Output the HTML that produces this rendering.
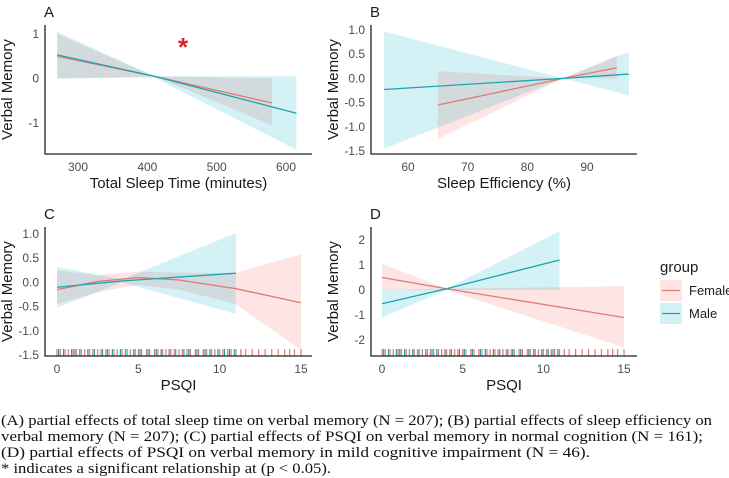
<!DOCTYPE html>
<html><head><meta charset="utf-8"><style>
html,body{margin:0;padding:0;background:#fff;}
svg{display:block;font-family:"Liberation Sans",sans-serif;}
.tk{font-size:12px;fill:#4d4d4d;}
.ttl{font-size:15px;fill:#1a1a1a;}
.cap{font-family:"Liberation Serif",serif;font-size:15px;fill:#111;}
</style></head><body>
<svg id="chart" width="729" height="478" viewBox="0 0 729 478" xmlns="http://www.w3.org/2000/svg"></svg>
<script>
// ---- Data ----
// Panel A: total sleep time
const aFemX=[270,410,580], aFemLine=[0.5,0.05,-0.55], aFemLo=[0,0.05,-1.05], aFemHi=[1.0,0.05,0.0];
const aMaleX=[270,410,615], aMaleLine=[0.53,0.05,-0.78], aMaleLo=[0,0.02,-1.6], aMaleHi=[1.05,0.05,0.05];
const aXTicks=[300,400,500,600], aYTicks=[1,0,-1], aYLabels=["1","0","-1"];
// Panel B: sleep efficiency
const bFemX=[65,86,95], bFemLine=[-0.55,0.0,0.22], bFemLo=[-1.25,0,0], bFemHi=[0.15,0,0.47];
const bMaleX=[56,86,97], bMaleLine=[-0.23,0.0,0.09], bMaleLo=[-1.45,0,-0.35], bMaleHi=[0.97,0,0.55];
const bXTicks=[60,70,80,90], bYTicks=[1,0.5,0,-0.5,-1,-1.5], bYLabels=["1.0","0.5","0.0","-0.5","-1.0","-1.5"];
// Panel C: PSQI normal cognition
const cFemX=[0,2.5,5,7.5,11,15], cFemLine=[-0.15,0.02,0.1,0.05,-0.13,-0.42], cFemLo=[-0.45,-0.2,-0.05,-0.15,-0.45,-1.4], cFemHi=[0.25,0.15,0.22,0.2,0.2,0.58];
const cMaleX=[0,4,11], cMaleLine=[-0.1,0.03,0.19], cMaleLo=[-0.52,0.0,-0.65], cMaleHi=[0.32,0.06,1.02];
const cXTicks=[0,5,10,15], cYTicks=[1,0.5,0,-0.5,-1,-1.5], cYLabels=["1.0","0.5","0.0","-0.5","-1.0","-1.5"];
// Panel D: PSQI MCI
const dFemX=[0,4,15], dFemLine=[0.5,0.05,-1.1], dFemLo=[0,0,-2.3], dFemHi=[1.05,0.05,0.15];
const dMaleX=[0,4,11], dMaleLine=[-0.55,0.05,1.2], dMaleLo=[-1.1,0,0], dMaleHi=[0,0.05,2.35];
const dXTicks=[0,5,10,15], dYTicks=[2,1,0,-1,-2], dYLabels=["2","1","0","-1","-2"];
// Rug values (PSQI)
const rugFem=[0,0.2,0.5,0.7,1,1.2,1.5,1.7,2,2.2,2.5,2.7,3,3.2,3.5,3.7,4,4.2,4.5,4.7,5,5.2,5.5,5.7,6,6.2,6.5,6.7,7,7.2,7.5,7.7,8,8.2,8.5,8.7,9,9.2,9.5,9.7,10,10.2,10.5,10.7,11,11.3,11.6,12,12.4,12.8,13.2,13.6,14,14.3,14.6,15];
const rugMale=[0.1,0.4,0.9,1.1,1.4,1.9,2.3,2.8,3.1,3.4,3.9,4.3,4.8,5.1,5.6,6.1,6.4,6.9,7.3,7.8,8.1,8.6,9.1,9.4,9.9,10.3,10.6,10.9];

const RED="#e07b73", REDF="rgba(248,118,109,0.2)", BLUE="#1aa5b0", BLUEF="rgba(0,170,200,0.17)";
const svg=document.getElementById('chart');
const NS="http://www.w3.org/2000/svg";
function mk(tag,attrs,parent){const e=document.createElementNS(NS,tag);for(const k in attrs)e.setAttribute(k,attrs[k]);(parent||svg).appendChild(e);return e;}
function lin(d0,d1,r0,r1){return v=>r0+(v-d0)*(r1-r0)/(d1-d0);}

function panel(p){
  const g=mk('g',{});
  
  
  const X=p.x, Y=p.y;
  function ribbon(xs,lo,hi,fill,name){
    let pts=xs.map((v,i)=>X(v)+','+Y(hi[i]));
    for(let i=xs.length-1;i>=0;i--)pts.push(X(xs[i])+','+Y(lo[i]));
    const e=mk('polygon',{points:pts.join(' '),fill:fill},g);
    
    
  }
  function line(xs,ys,col,name){
    const e=mk('polyline',{points:xs.map((v,i)=>X(v)+','+Y(ys[i])).join(' '),fill:'none',stroke:col,'stroke-width':1.3},g);
    
    
  }
  ribbon(p.fx,p.flo,p.fhi,REDF,'female-ci-ribbon');
  ribbon(p.mx,p.mlo,p.mhi,BLUEF,'male-ci-ribbon');
  line(p.fx,p.fl,RED,'female-fit-line');
  line(p.mx,p.ml,BLUE,'male-fit-line');
  if(p.rug){
    p.rug[0].forEach(v=>{const t=mk('line',{x1:X(v),x2:X(v),y1:p.bottom-7,y2:p.bottom,stroke:RED,'stroke-width':1.2},g);
      
      });
    p.rug[1].forEach(v=>{const t=mk('line',{x1:X(v),x2:X(v),y1:p.bottom-7,y2:p.bottom,stroke:BLUE,'stroke-width':1.2},g);
      
      });
  }
  const ax=mk('path',{d:`M${p.left},${p.top} V${p.bottom} H${p.right}`,fill:'none',stroke:'#222','stroke-width':1.3},g);
  
  
  p.xt.forEach(v=>{const t=mk('text',{x:X(v),y:p.bottom+17,'text-anchor':'middle',class:'tk'},g);t.textContent=v;
    
    });
  p.yt.forEach((v,i)=>{const t=mk('text',{x:p.left-6,y:Y(v)+4,'text-anchor':'end',class:'tk'},g);t.textContent=p.yl[i];
    
    });
  const xt=mk('text',{x:(p.left+p.right)/2,y:p.bottom+34,'text-anchor':'middle',class:'ttl'},g);xt.textContent=p.xtitle;
  
  
  const cy=(p.top+p.bottom)/2, cx=p.left-33;
  const yt=mk('text',{x:cx,y:cy,'text-anchor':'middle',class:'ttl',transform:`rotate(-90 ${cx} ${cy})`},g);yt.textContent='Verbal Memory';
  
  
  const pt=mk('text',{x:p.left-1,y:p.top-8,class:'ttl','font-size':'16'},g);pt.textContent=p.id;
  
  
}

panel({id:'A',left:45,right:312,top:25,bottom:154,x:lin(300,600,78,286),y:lin(1,-1,34,123),
  fx:aFemX,fl:aFemLine,flo:aFemLo,fhi:aFemHi,mx:aMaleX,ml:aMaleLine,mlo:aMaleLo,mhi:aMaleHi,
  xt:aXTicks,yt:aYTicks,yl:aYLabels,xtitle:'Total Sleep Time (minutes)'});
panel({id:'B',left:371,right:637,top:25,bottom:154,x:lin(60,90,408,587),y:lin(1,-1.5,30,151),
  fx:bFemX,fl:bFemLine,flo:bFemLo,fhi:bFemHi,mx:bMaleX,ml:bMaleLine,mlo:bMaleLo,mhi:bMaleHi,
  xt:bXTicks,yt:bYTicks,yl:bYLabels,xtitle:'Sleep Efficiency (%)'});
panel({id:'C',left:45,right:312,top:227,bottom:356,x:lin(0,15,57,301),y:lin(1,-1.5,234,355),
  fx:cFemX,fl:cFemLine,flo:cFemLo,fhi:cFemHi,mx:cMaleX,ml:cMaleLine,mlo:cMaleLo,mhi:cMaleHi,
  xt:cXTicks,yt:cYTicks,yl:cYLabels,xtitle:'PSQI',rug:[rugFem,rugMale]});
panel({id:'D',left:371,right:637,top:227,bottom:356,x:lin(0,15,382,624),y:lin(2,-2,240,340),
  fx:dFemX,fl:dFemLine,flo:dFemLo,fhi:dFemHi,mx:dMaleX,ml:dMaleLine,mlo:dMaleLo,mhi:dMaleHi,
  xt:dXTicks,yt:dYTicks,yl:dYLabels,xtitle:'PSQI',rug:[rugFem,rugMale]});

// significance star
const star=mk('text',{x:183,y:56,'text-anchor':'middle','font-size':'26','font-weight':'bold',fill:'#d62728'});
star.textContent='*';



// legend
const lg=mk('g',{});


const lt=mk('text',{x:660,y:272,class:'ttl'},lg);lt.textContent='group';


[['Female',REDF,RED,280],['Male',BLUEF,BLUE,303]].forEach(d=>{
  const e=mk('g',{},lg);
  
  
  mk('rect',{x:660,y:d[3],width:22,height:21,fill:d[1]},e);
  mk('line',{x1:662,x2:680,y1:d[3]+10.5,y2:d[3]+10.5,stroke:d[2],'stroke-width':1.3},e);
  const t=mk('text',{x:689,y:d[3]+15,'font-size':'13',fill:'#1a1a1a'},e);t.textContent=d[0];
});

// caption
const capLines=[
 ["(A) partial effects of total sleep time on verbal memory (N = 207); (B) partial effects of sleep efficiency on",711],
 ["verbal memory (N = 207); (C) partial effects of PSQI on verbal memory in normal cognition (N  = 161);",702],
 ["(D) partial effects of PSQI on verbal memory in mild cognitive impairment (N = 46).",589],
 ["* indicates a significant relationship at (p < 0.05).",330]];
capLines.forEach((l,i)=>{
  const t=mk('text',{x:1,y:425+i*16,class:'cap',textLength:l[1],lengthAdjust:'spacingAndGlyphs'});
  t.textContent=l[0];
  
  
});
</script>
</body></html>
